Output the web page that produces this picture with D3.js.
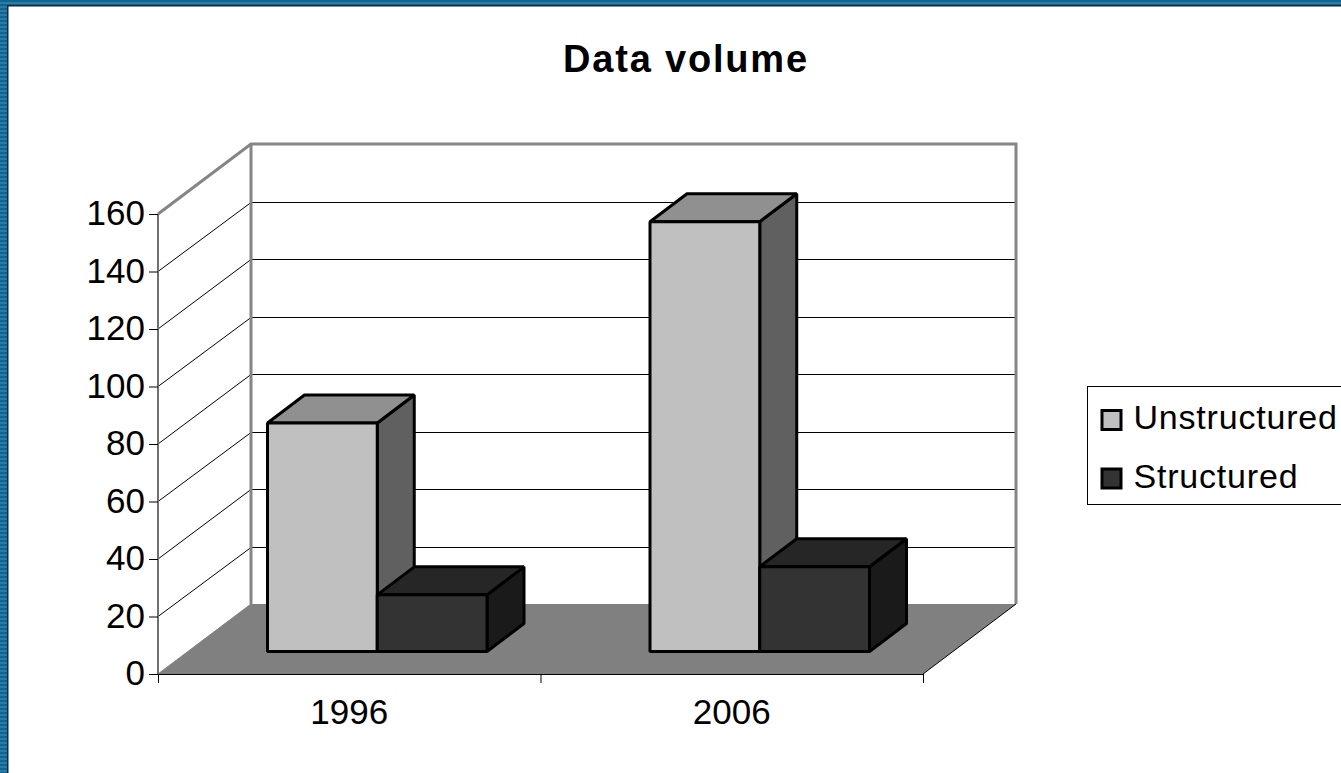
<!DOCTYPE html>
<html>
<head>
<meta charset="utf-8">
<script src="https://cdn.jsdelivr.net/npm/d3@7"></script>
<style>
  html, body { margin: 0; padding: 0; background: #fff; overflow: hidden; }
  text { font-family: "Liberation Sans", Arial, sans-serif; fill: #000; }
</style>
</head>
<body>
<div id="chart"></div>
<script>
const title = 'Data volume';
const years = ['1996', '2006'];
const seriesNames = ['Unstructured', 'Structured'];
const unstructured = [79.5, 149.5];
const structured = [19.7, 29.5];
const yTicks = [0, 20, 40, 60, 80, 100, 120, 140, 160];

const seriesColor = {Unstructured: '#c0c0c0', Structured: '#333333'};
const seriesTop = {Unstructured: '#909090', Structured: '#262626'};
const seriesSide = {Unstructured: '#606060', Structured: '#1a1a1a'};
const valuesBySeries = {Unstructured: unstructured, Structured: structured};

const W = 1341, H = 773;
const svg = d3.select('#chart').append('svg')
  .attr('width', W)
  .attr('height', H)
  .style('display', 'block');

// striped blue slide border
const defs = svg.append('defs');
const stripes = defs.append('pattern')
  .attr('id', 'stripes')
  .attr('width', 4).attr('height', 4)
  .attr('patternUnits', 'userSpaceOnUse');
stripes.append('rect').attr('width', 4).attr('height', 4).attr('fill', '#2a7ba6');
stripes.append('rect').attr('width', 4).attr('height', 2).attr('fill', '#10648f');

svg.append('rect').attr('width', W).attr('height', 5).attr('fill', 'url(#stripes)');
svg.append('rect').attr('width', 7).attr('height', H).attr('fill', 'url(#stripes)');
svg.append('path').attr('d', `M7.75,${H}V5.75H${W}`).attr('fill', 'none').attr('stroke', '#0a2a3a').attr('stroke-width', 1.5);

// scales, front plane of the chart box
const x = d3.scaleBand().domain(years).range([158, 923]);
const y = d3.scaleLinear().domain([0, 160]).range([674, 214]);
const inner = d3.scaleBand().domain(seriesNames).range([79.5, 299]);

// depth of the box and of the bars
const boxDx = 93, boxDy = -70;
const barZ = {dx: 30, dy: -22.5};
const barDepth = {dx: 37, dy: -28};

const line = d3.line();
const chart = svg.append('g');

// floor
chart.append('path')
  .attr('d', line([[158, y(0)], [158 + boxDx, y(0) + boxDy], [923 + boxDx, y(0) + boxDy], [923, y(0)]]) + 'Z')
  .attr('fill', '#808080');

// grid lines on the side and back walls
yTicks.slice(1, -1).forEach(t => {
  const backY = Math.round(y(t) + boxDy) + 0.5;
  chart.append('path')
    .attr('d', line([[158, y(t)], [158 + boxDx, backY]]))
    .attr('fill', 'none')
    .attr('stroke', '#000')
    .attr('stroke-width', 1);
  chart.append('path')
    .attr('d', line([[158 + boxDx, backY], [923 + boxDx, backY]]))
    .attr('fill', 'none')
    .attr('stroke', '#000')
    .attr('stroke-width', 1);
});

// box outline
chart.append('path')
  .attr('d', line([[158, y(160)], [158 + boxDx, y(160) + boxDy], [923 + boxDx, y(160) + boxDy], [923 + boxDx, y(0) + boxDy]]))
  .attr('fill', 'none')
  .attr('stroke', '#858585')
  .attr('stroke-width', 3);
chart.append('path')
  .attr('d', line([[158 + boxDx, y(160) + boxDy], [158 + boxDx, y(0) + boxDy]]))
  .attr('stroke', '#858585')
  .attr('stroke-width', 3);
chart.append('path')
  .attr('d', line([[158, y(160)], [158, y(0)]]))
  .attr('stroke', '#707070')
  .attr('stroke-width', 2);
chart.append('path')
  .attr('d', line([[158, y(0)], [158 + boxDx, y(0) + boxDy]]))
  .attr('stroke', '#808080')
  .attr('stroke-width', 1);
chart.append('path')
  .attr('d', line([[923, y(0)], [923 + boxDx, y(0) + boxDy]]))
  .attr('stroke', '#000')
  .attr('stroke-width', 1);

// bars
const bars = chart.append('g')
  .attr('stroke', '#000')
  .attr('stroke-width', 3)
  .attr('stroke-linejoin', 'bevel');

years.forEach((year, i) => {
  seriesNames.forEach(name => {
    const v = valuesBySeries[name][i];
    const x0 = x(year) + inner(name) + barZ.dx;
    const x1 = x0 + inner.bandwidth();
    const yBase = y(0) + barZ.dy;
    const yTop = y(v) + barZ.dy;
    const dx = barDepth.dx, dy = barDepth.dy;
    // side
    bars.append('path')
      .attr('d', line([[x1, yBase], [x1, yTop], [x1 + dx, yTop + dy], [x1 + dx, yBase + dy]]) + 'Z')
      .attr('fill', seriesSide[name]);
    // top
    bars.append('path')
      .attr('d', line([[x0, yTop], [x0 + dx, yTop + dy], [x1 + dx, yTop + dy], [x1, yTop]]) + 'Z')
      .attr('fill', seriesTop[name]);
    // front
    bars.append('rect')
      .attr('x', x0)
      .attr('y', yTop)
      .attr('width', x1 - x0)
      .attr('height', yBase - yTop)
      .attr('fill', seriesColor[name]);
  });
});

// axes
const axisX = chart.append('g');
axisX.append('line').attr('x1', 158).attr('x2', 923).attr('y1', y(0) + 0.5).attr('y2', y(0) + 0.5).attr('stroke', '#000');
[158, 158 + x.bandwidth(), 923].forEach(px => {
  axisX.append('line').attr('x1', px + 0.5).attr('x2', px + 0.5).attr('y1', y(0)).attr('y2', y(0) + 9).attr('stroke', '#000');
});
years.forEach(year => {
  axisX.append('text')
    .attr('x', x(year) + x.bandwidth() / 2)
    .attr('y', 724)
    .attr('text-anchor', 'middle')
    .attr('font-size', 35)
    .text(year);
});

const axisY = chart.append('g');
yTicks.forEach(t => {
  axisY.append('line').attr('x1', 149).attr('x2', 158).attr('y1', y(t) + 0.5).attr('y2', y(t) + 0.5).attr('stroke', '#000');
  axisY.append('text')
    .attr('x', 145)
    .attr('y', y(t) + 11)
    .attr('text-anchor', 'end')
    .attr('font-size', 35)
    .text(t);
});

// title
svg.append('text')
  .attr('x', 686)
  .attr('y', 72)
  .attr('text-anchor', 'middle')
  .attr('font-size', 38)
  .attr('font-weight', 700)
  .attr('letter-spacing', 1.8)
  .text(title);

// legend
const legend = svg.append('g');
legend.append('rect')
  .attr('x', 1087.5).attr('y', 386.5)
  .attr('width', 270).attr('height', 118)
  .attr('fill', '#fff')
  .attr('stroke', '#000');
seriesNames.forEach((name, i) => {
  const ly = 419 + i * 58.5;
  legend.append('rect')
    .attr('x', 1102).attr('y', ly - 8.5)
    .attr('width', 19).attr('height', 19)
    .attr('fill', seriesColor[name])
    .attr('stroke', '#000')
    .attr('stroke-width', 3);
  legend.append('text')
    .attr('x', 1133.5)
    .attr('y', ly + 10)
    .attr('font-size', 34)
    .attr('letter-spacing', 0.8)
    .text(name);
});
</script>
</body>
</html>
